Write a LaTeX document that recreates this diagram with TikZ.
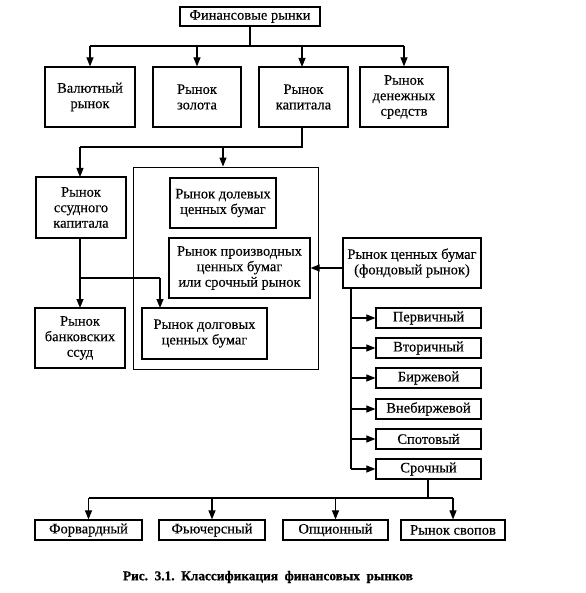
\documentclass[tikz,border=0pt]{standalone}
\usepackage{fontspec}
\setmainfont{Liberation Serif}[FakeBold=0.3]
\newfontfamily\captfont{Liberation Serif}[FakeBold=0.8]
\usetikzlibrary{arrows.meta,calc}
\begin{document}
\begin{tikzpicture}[x=1pt,y=-1pt,
  box/.style={draw,line width=1.2pt,inner sep=0pt,align=center,
    font=\fontsize{14.5}{15.5}\selectfont},
  frame/.style={draw,line width=0.9pt,inner sep=0pt},
  ln/.style={line width=1.1pt},
  arr/.style={line width=1.1pt,-{Triangle[length=9pt,width=7pt]}},
  capt/.style={font=\fontsize{13.3}{15}\captfont\bfseries}]
\useasboundingbox (0,0) rectangle (585,593);
% top
\node[box,minimum width=140pt,minimum height=19pt] (fin) at (250,16.5) {Финансовые рынки};
\node[box,minimum width=90pt,minimum height=60pt] (val) at (90,97) {Валютный\\рынок};
\node[box,minimum width=88pt,minimum height=60pt] (gold) at (197,97) {Рынок\\золота};
\node[box,minimum width=89pt,minimum height=60pt] (cap) at (303.5,97) {Рынок\\капитала};
\node[box,minimum width=88pt,minimum height=60pt] (money) at (404,97) {Рынок\\денежных\\средств};
% middle
\node[box,minimum width=90pt,minimum height=61pt] (loan) at (81,207.5) {Рынок\\ссудного\\капитала};
\node[frame,minimum width=185pt,minimum height=202pt] (outer) at (225.5,268) {};
\node[box,minimum width=106pt,minimum height=50pt] (equity) at (223,203) {Рынок долевых\\ценных бумаг};
\node[box,minimum width=141pt,minimum height=60pt] (deriv) at (239.5,268) {Рынок производных\\ценных бумаг\\или срочный рынок};
\node[box,minimum width=138pt,minimum height=50pt] (secur) at (412,263) {Рынок ценных бумаг\\(фондовый рынок)};
\node[box,minimum width=90pt,minimum height=60pt] (bank) at (80,338) {Рынок\\банковских\\ссуд};
\node[box,minimum width=125pt,minimum height=51pt] (debt) at (204.5,333.5) {Рынок долговых\\ценных бумаг};
% right column
\node[box,minimum width=105pt,minimum height=20pt] (r1) at (428.5,318) {Первичный};
\node[box,minimum width=105pt,minimum height=20pt] (r2) at (428.5,348) {Вторичный};
\node[box,minimum width=105pt,minimum height=20pt] (r3) at (428.5,378) {Биржевой};
\node[box,minimum width=105pt,minimum height=20pt] (r4) at (428.5,409) {Внебиржевой};
\node[box,minimum width=105pt,minimum height=20pt] (r5) at (428.5,439) {Спотовый};
\node[box,minimum width=105pt,minimum height=20pt] (r6) at (428.5,469) {Срочный};
% bottom row
\node[box,minimum width=107pt,minimum height=20pt] (b1) at (88.5,530) {Форвардный};
\node[box,minimum width=106pt,minimum height=20pt] (b2) at (212,530) {Фьючерсный};
\node[box,minimum width=105pt,minimum height=20pt] (b3) at (335.5,530) {Опционный};
\node[box,minimum width=104pt,minimum height=20pt] (b4) at (453,530) {Рынок свопов};
\node[capt] (caption) at (268,577) {Рис.~~3.1.~~Классификация~~финансовых~~рынков};
% coordinates
\coordinate (bus1) at (250,46);
\coordinate (bus2) at (302,147);
\coordinate (br1) at (80,278);
\coordinate (vline) at (351,0);
\coordinate (bus3) at (428,498);
% connectors top
\draw[ln] (fin.south) -- (bus1);
\draw[ln] (val.north |- bus1) -- (money.north |- bus1);
\foreach \n in {val,gold,money}{\draw[arr] (\n.north |- bus1) -- (\n.north);}
\draw[arr] (302,46) -- (302,67);
% capital branch
\draw[ln] (302,127) -- (bus2) -- (80,147);
\draw[arr] (80,147) -- (80,177);
\draw[arr] (223,147) -- (outer.north -| 223,0);
% loan branch
\draw[arr] (80,238) -- (80,308);
\draw[ln] (br1) -- (160,278);
\draw[arr] (160,278) -- (160,308);
% securities
\draw[arr] (secur.west |- deriv.east) -- (deriv.east);
\draw[ln] (vline |- secur.south) -- (vline |- r6.west);
\foreach \n in {r1,r2,r3,r4,r5,r6}{\draw[arr] (vline |- \n.west) -- (\n.west);}
% bottom
\draw[ln] (r6.south -| bus3) -- (bus3);
\draw[ln] (b1.north |- bus3) -- (b4.north |- bus3);
\foreach \n in {b1,b2,b3,b4}{\draw[arr] (\n.north |- bus3) -- (\n.north);}
\end{tikzpicture}
\end{document}
